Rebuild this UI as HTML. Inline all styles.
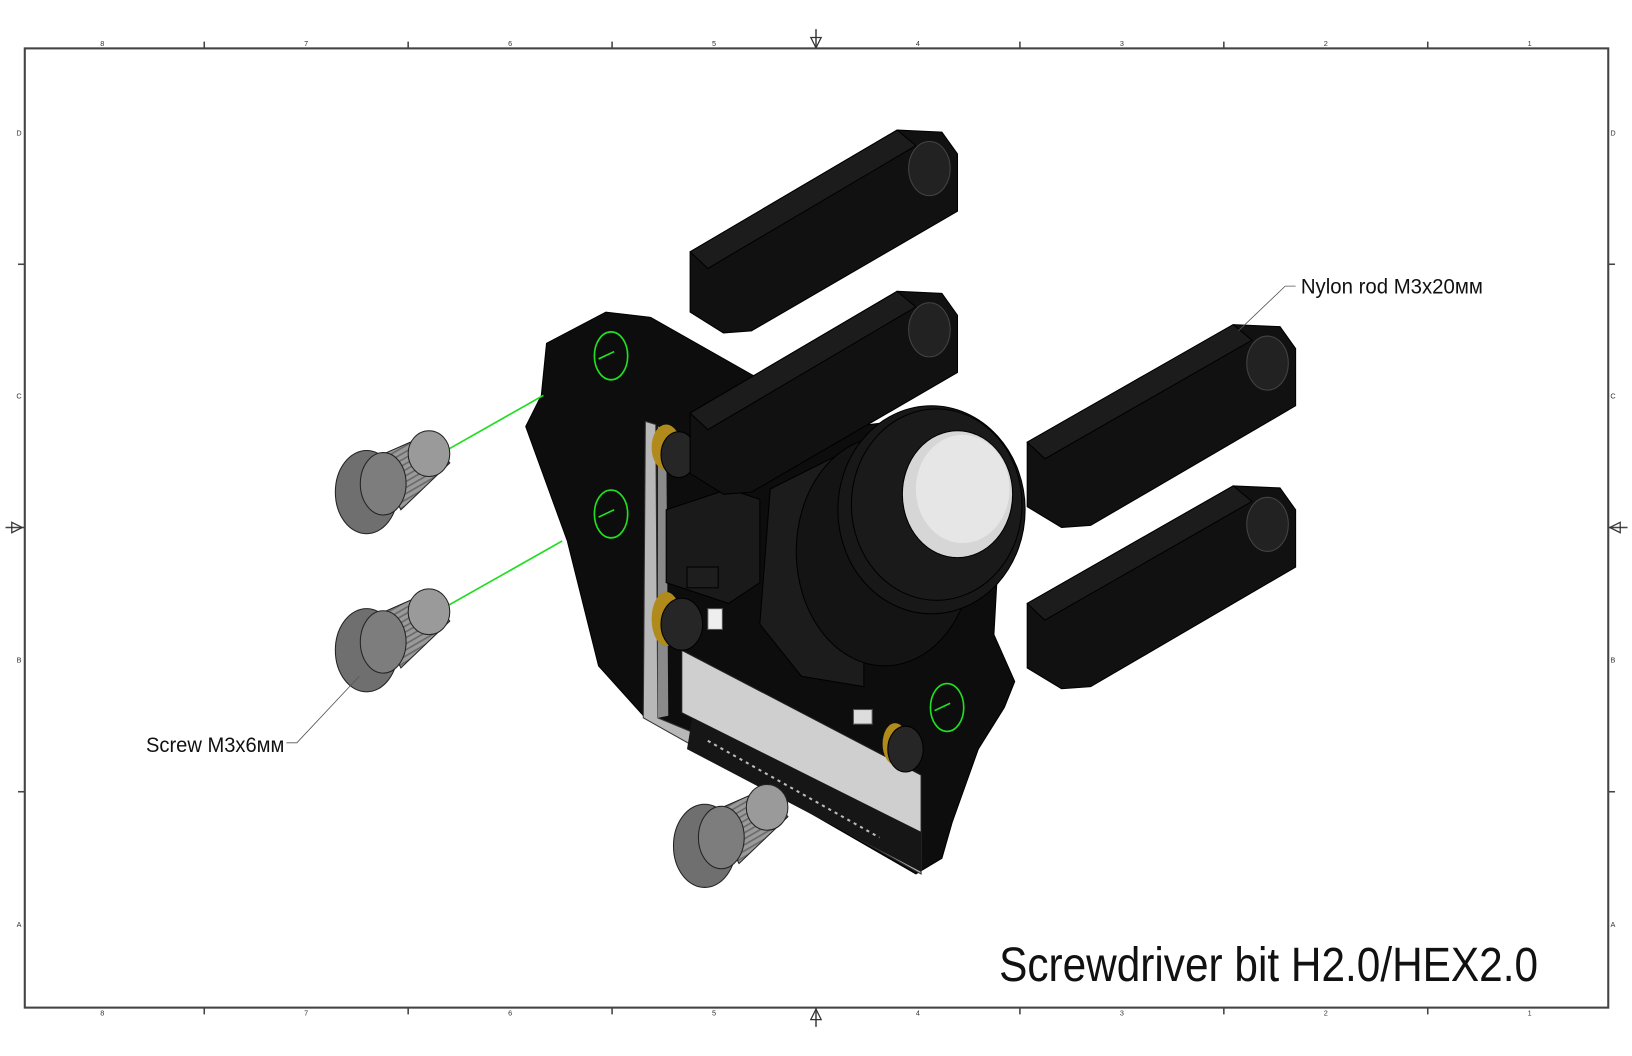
<!DOCTYPE html>
<html><head><meta charset="utf-8"><style>
html,body{margin:0;padding:0;background:#fff;width:1632px;height:1056px;overflow:hidden}
svg{display:block}
text{font-family:"Liberation Sans",sans-serif}
</style></head><body>
<svg width="1632" height="1056" viewBox="0 0 1568 1015" xmlns="http://www.w3.org/2000/svg">
<defs>
<pattern id="thr" width="5" height="5" patternUnits="userSpaceOnUse" patternTransform="rotate(60)">
<rect width="5" height="5" fill="#9a9a9a"/><rect width="1.6" height="5" fill="#6a6a6a"/>
</pattern>
</defs>
<!-- frame -->
<rect x="23.5" y="46.5" width="1522" height="922" fill="none" stroke="#444" stroke-width="2"/>
<g stroke="#444" stroke-width="1.5">
<line x1="196" y1="40" x2="196" y2="46"/><line x1="392" y1="40" x2="392" y2="46"/><line x1="588" y1="40" x2="588" y2="46"/><line x1="980" y1="40" x2="980" y2="46"/><line x1="1176" y1="40" x2="1176" y2="46"/><line x1="1372" y1="40" x2="1372" y2="46"/>
<line x1="196" y1="969" x2="196" y2="975"/><line x1="392" y1="969" x2="392" y2="975"/><line x1="588" y1="969" x2="588" y2="975"/><line x1="980" y1="969" x2="980" y2="975"/><line x1="1176" y1="969" x2="1176" y2="975"/><line x1="1372" y1="969" x2="1372" y2="975"/>
<line x1="17" y1="254" x2="23" y2="254"/><line x1="17" y1="761" x2="23" y2="761"/>
<line x1="1546" y1="254" x2="1552" y2="254"/><line x1="1546" y1="761" x2="1552" y2="761"/>
<line x1="784" y1="28" x2="784" y2="46"/><line x1="784" y1="969" x2="784" y2="987"/>
<line x1="5" y1="507" x2="23" y2="507"/><line x1="1546" y1="507" x2="1564" y2="507"/>
</g>
<g fill="none" stroke="#333" stroke-width="1.2">
<path d="M779,36 L784,46 L789,36 Z"/><path d="M779,980 L784,970 L789,980 Z"/>
<path d="M11,502 L21,507 L11,512 Z"/><path d="M1557,502 L1547,507 L1557,512 Z"/>
</g>
<g font-size="7" fill="#333" text-anchor="middle">
<text x="98" y="44">8</text><text x="294" y="44">7</text><text x="490" y="44">6</text><text x="686" y="44">5</text><text x="882" y="44">4</text><text x="1078" y="44">3</text><text x="1274" y="44">2</text><text x="1470" y="44">1</text>
<text x="98" y="976">8</text><text x="294" y="976">7</text><text x="490" y="976">6</text><text x="686" y="976">5</text><text x="882" y="976">4</text><text x="1078" y="976">3</text><text x="1274" y="976">2</text><text x="1470" y="976">1</text>
<text x="18" y="130">D</text><text x="18" y="383">C</text><text x="18" y="637">B</text><text x="18" y="891">A</text>
<text x="1550" y="130">D</text><text x="1550" y="383">C</text><text x="1550" y="637">B</text><text x="1550" y="891">A</text>
</g>

<!-- top hex rod -->
<g stroke="#000" stroke-width="1">
<path d="M663,242 L862,125 L905,127 L920,148 L920,203 L722,318 L695,320 L663,300 Z" fill="#111"/>
<path d="M663,242 L862,125 L880,140 L680,258 Z" fill="#1c1c1c"/>
<ellipse cx="893" cy="162" rx="20" ry="26" fill="#222" stroke="#444"/>
</g>

<!-- plate -->
<path d="M525,330 L582,300 L625,305 L722,360 L820,410 L900,400 L960,520 L955,610 L975,655 L965,680 L940,720 L915,790 L905,825 L880,840 L620,690 L575,640 L545,520 L505,410 L520,380 Z" fill="#0d0d0d" stroke="#000"/>
<!-- pcb -->
<path d="M620,405 L630,408 L632,690 L885,795 L885,840 L618,690 Z" fill="#b8b8b8" stroke="#333"/>
<path d="M632,410 L640,412 L642,688 L632,690 Z" fill="#8a8a8a"/>
<path d="M655,625 L885,745 L885,800 L655,685 Z" fill="#cfcfcf" stroke="#222"/>
<path d="M665,690 L885,800 L885,838 L660,720 Z" fill="#161616"/>
<g stroke="#bbb" stroke-width="2"><line x1="680" y1="712" x2="845" y2="805" stroke-dasharray="3 4"/></g>
<!-- brass washers + screws -->
<ellipse cx="640" cy="430" rx="14" ry="22" fill="#b08a1a"/>
<ellipse cx="652" cy="437" rx="17" ry="22" fill="#262626" stroke="#000"/>
<ellipse cx="640" cy="595" rx="14" ry="26" fill="#b08a1a"/>
<ellipse cx="655" cy="600" rx="20" ry="25" fill="#262626" stroke="#000"/>
<ellipse cx="860" cy="715" rx="12" ry="20" fill="#b08a1a"/>
<ellipse cx="870" cy="720" rx="17" ry="22" fill="#262626" stroke="#000"/>
<!-- camera body -->
<path d="M640,490 L700,470 L730,480 L730,560 L700,580 L640,560 Z" fill="#1a1a1a" stroke="#000"/>
<rect x="660" y="545" width="30" height="20" fill="#1e1e1e" stroke="#000"/>
<rect x="680" y="585" width="14" height="20" fill="#eee" stroke="#555"/>
<rect x="820" y="682" width="18" height="14" fill="#ddd" stroke="#555"/>
<!-- lens -->
<path d="M740,470 L800,440 L830,620 L830,660 L770,650 L730,600 Z" fill="#1c1c1c" stroke="#000"/>
<ellipse cx="850" cy="530" rx="85" ry="110" fill="#141414" stroke="#000"/>
<ellipse cx="895" cy="490" rx="90" ry="100" fill="#181818" stroke="#000"/>
<ellipse cx="900" cy="485" rx="82" ry="92" fill="#1a1a1a" stroke="#000"/>
<ellipse cx="920" cy="475" rx="53" ry="61" fill="#d6d6d6" stroke="#000"/>
<ellipse cx="925" cy="470" rx="45" ry="52" fill="#e6e6e6"/>

<!-- second rod in front -->
<g stroke="#000" stroke-width="1">
<path d="M663,397 L862,280 L905,282 L920,303 L920,358 L722,473 L695,475 L663,455 Z" fill="#111"/>
<path d="M663,397 L862,280 L880,295 L680,413 Z" fill="#1c1c1c"/>
<ellipse cx="893" cy="317" rx="20" ry="26" fill="#222" stroke="#444"/>
</g>

<!-- right rods -->
<g stroke="#000" stroke-width="1">
<path d="M987,425 L1185,312 L1230,314 L1245,335 L1245,390 L1048,505 L1020,507 L987,487 Z" fill="#111"/>
<path d="M987,425 L1185,312 L1203,327 L1004,441 Z" fill="#1c1c1c"/>
<ellipse cx="1218" cy="349" rx="20" ry="26" fill="#222" stroke="#444"/>
<path d="M987,580 L1185,467 L1230,469 L1245,490 L1245,545 L1048,660 L1020,662 L987,642 Z" fill="#111"/>
<path d="M987,580 L1185,467 L1203,482 L1004,596 Z" fill="#1c1c1c"/>
<ellipse cx="1218" cy="504" rx="20" ry="26" fill="#222" stroke="#444"/>
</g>

<!-- green -->
<g fill="none" stroke="#22dd22" stroke-width="1.6">
<ellipse cx="587" cy="342" rx="16" ry="23"/><ellipse cx="587" cy="494" rx="16" ry="23"/><ellipse cx="910" cy="680" rx="16" ry="23"/>
<line x1="425" y1="435" x2="522" y2="380"/><line x1="425" y1="585" x2="540" y2="520"/>
<line x1="575" y1="345" x2="590" y2="338"/><line x1="575" y1="497" x2="590" y2="490"/><line x1="898" y1="683" x2="913" y2="676"/>
<line x1="742" y1="778" x2="756" y2="770"/>
</g>

<!-- screws -->
<g stroke="#222" stroke-width="1">
<g>
<path d="M360,440 L410,418 L432,445 L385,490 Z" fill="url(#thr)"/>
<ellipse cx="412" cy="436" rx="20" ry="22" fill="#9a9a9a"/>
<ellipse cx="352" cy="473" rx="30" ry="40" fill="#6f6f6f"/>
<ellipse cx="368" cy="465" rx="22" ry="30" fill="#7d7d7d"/>
</g>
<g>
<path d="M360,592 L410,570 L432,597 L385,642 Z" fill="url(#thr)"/>
<ellipse cx="412" cy="588" rx="20" ry="22" fill="#9a9a9a"/>
<ellipse cx="352" cy="625" rx="30" ry="40" fill="#6f6f6f"/>
<ellipse cx="368" cy="617" rx="22" ry="30" fill="#7d7d7d"/>
</g>
<g>
<path d="M685,780 L735,758 L757,785 L710,830 Z" fill="url(#thr)"/>
<ellipse cx="737" cy="776" rx="20" ry="22" fill="#9a9a9a"/>
<ellipse cx="677" cy="813" rx="30" ry="40" fill="#6f6f6f"/>
<ellipse cx="693" cy="805" rx="22" ry="30" fill="#7d7d7d"/>
</g>
</g>

<!-- leaders -->
<g fill="none" stroke="#555" stroke-width="0.8">
<polyline points="1190,318 1235,275 1245,275"/>
<polyline points="345,650 285,714 275,714"/>
</g>
<text x="1250" y="282" font-size="20" fill="#111" textLength="175" lengthAdjust="spacingAndGlyphs">Nylon rod M3x20мм</text>
<text x="140" y="723" font-size="20" fill="#111" textLength="133" lengthAdjust="spacingAndGlyphs">Screw M3x6мм</text>
<text x="960" y="943" font-size="46" fill="#111" textLength="518" lengthAdjust="spacingAndGlyphs">Screwdriver bit H2.0/HEX2.0</text>
</svg>
</body></html>
